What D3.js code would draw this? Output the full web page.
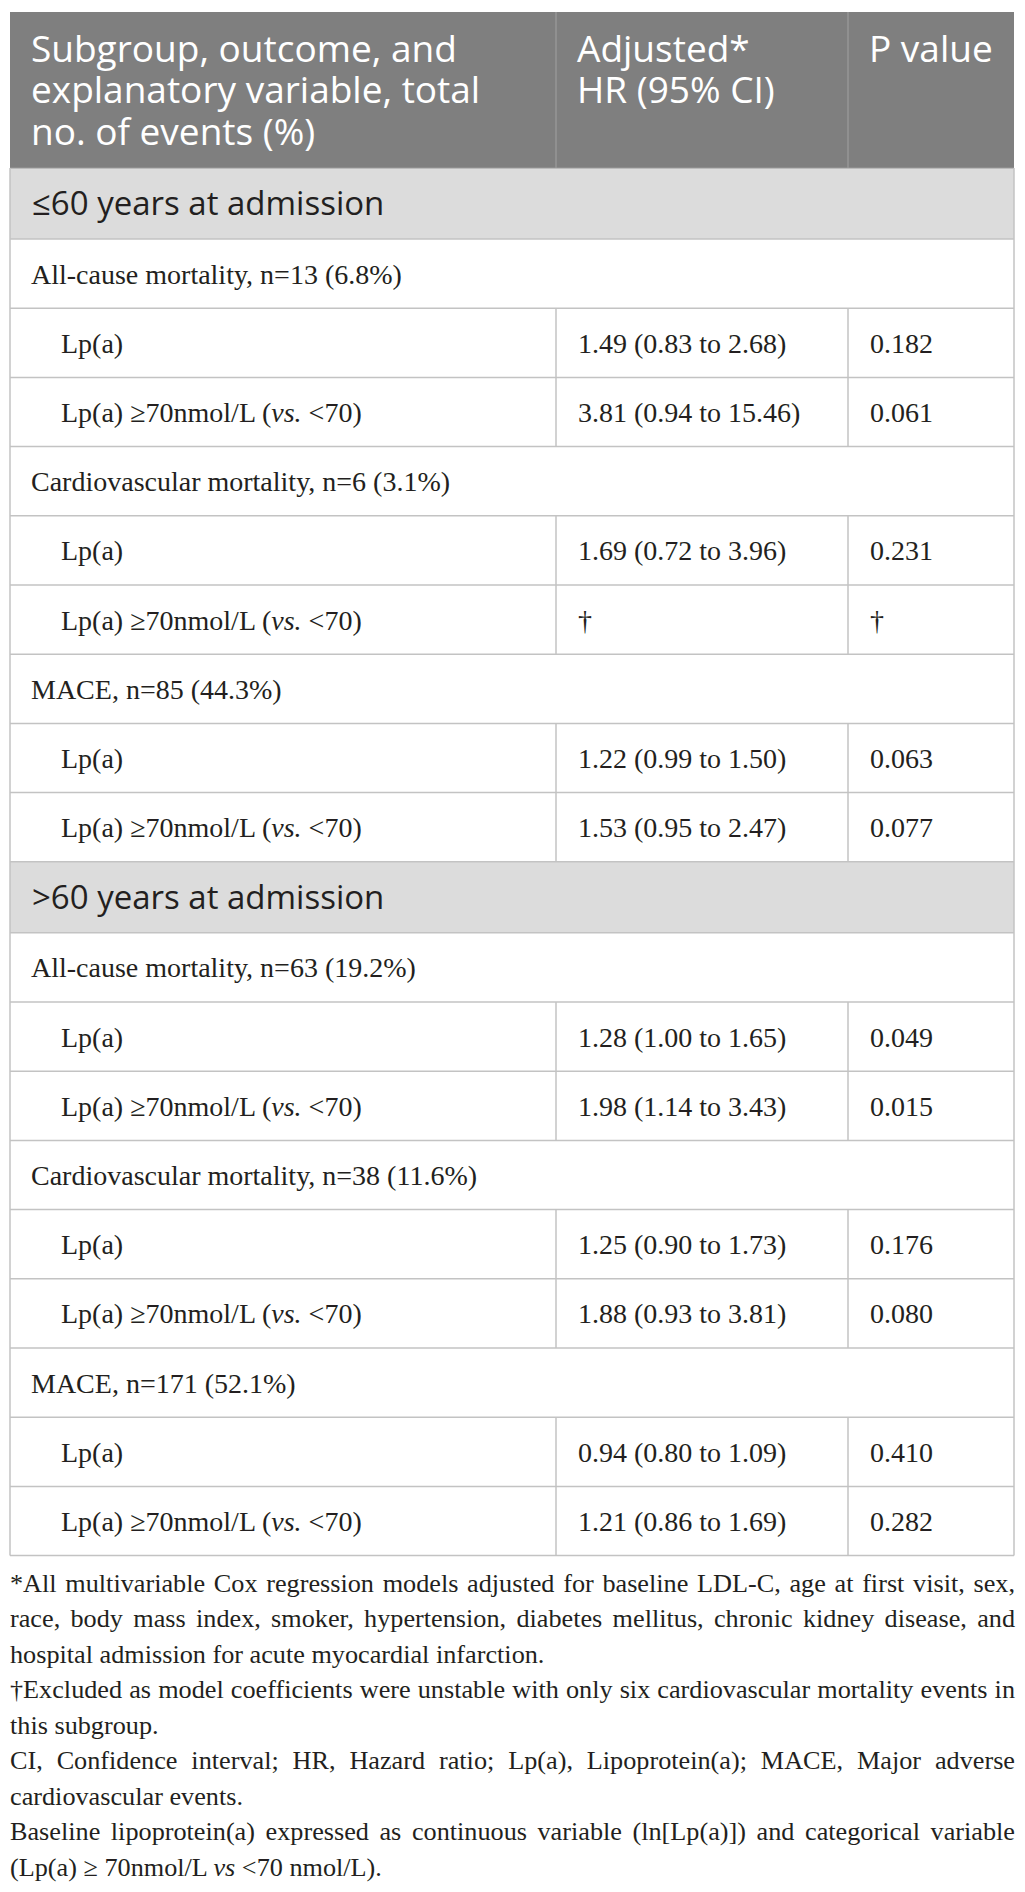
<!DOCTYPE html>
<html><head><meta charset="utf-8">
<script src="https://cdn.jsdelivr.net/npm/d3@7"></script>
<style>body{margin:0;background:#fff}</style>
</head><body><svg id="c" width="1025" height="1892"></svg>
<script>
// ---------- DATA ----------
const headerLines = [
  ["Subgroup, outcome, and", "explanatory variable, total", "no. of events (%)"],
  ["Adjusted*", "HR (95% CI)"],
  ["P value"]
];
const subgroups = ["≤60 years at admission", ">60 years at admission"];
const outcomes = [
  ["All-cause mortality, n=13 (6.8%)", "Cardiovascular mortality, n=6 (3.1%)", "MACE, n=85 (44.3%)"],
  ["All-cause mortality, n=63 (19.2%)", "Cardiovascular mortality, n=38 (11.6%)", "MACE, n=171 (52.1%)"]
];
const variableLabels = [
  [{t: "Lp(a)"}],
  [{t: "Lp(a) ≥70nmol/L ("}, {t: "vs.", i: true}, {t: " <70)"}]
];
const hrContinuous = [
  ["1.49 (0.83 to 2.68)", "1.69 (0.72 to 3.96)", "1.22 (0.99 to 1.50)"],
  ["1.28 (1.00 to 1.65)", "1.25 (0.90 to 1.73)", "0.94 (0.80 to 1.09)"]
];
const pContinuous = [
  ["0.182", "0.231", "0.063"],
  ["0.049", "0.176", "0.410"]
];
const hrCategorical = [
  ["3.81 (0.94 to 15.46)", "†", "1.53 (0.95 to 2.47)"],
  ["1.98 (1.14 to 3.43)", "1.88 (0.93 to 3.81)", "1.21 (0.86 to 1.69)"]
];
const pCategorical = [
  ["0.061", "†", "0.077"],
  ["0.015", "0.080", "0.282"]
];
const footnoteLines = [
  {parts: [{t: "*All multivariable Cox regression models adjusted for baseline LDL-C, age at first visit, sex,"}], j: true},
  {parts: [{t: "race, body mass index, smoker, hypertension, diabetes mellitus, chronic kidney disease, and"}], j: true},
  {parts: [{t: "hospital admission for acute myocardial infarction."}], j: false},
  {parts: [{t: "†Excluded as model coefficients were unstable with only six cardiovascular mortality events in"}], j: true},
  {parts: [{t: "this subgroup."}], j: false},
  {parts: [{t: "CI, Confidence interval; HR, Hazard ratio; Lp(a), Lipoprotein(a); MACE, Major adverse"}], j: true},
  {parts: [{t: "cardiovascular events."}], j: false},
  {parts: [{t: "Baseline lipoprotein(a) expressed as continuous variable (ln[Lp(a)]) and categorical variable"}], j: true},
  {parts: [{t: "(Lp(a) ≥ 70nmol/L "}, {t: "vs", i: true}, {t: " <70 nmol/L)."}], j: false}
];

// ---------- BUILD ROWS ----------
const rows = [{type: "header"}];
subgroups.forEach((sg, g) => {
  rows.push({type: "section", text: sg});
  outcomes[g].forEach((oc, k) => {
    rows.push({type: "outcome", text: oc});
    rows.push({type: "var", label: variableLabels[0], hr: hrContinuous[g][k], p: pContinuous[g][k]});
    rows.push({type: "var", label: variableLabels[1], hr: hrCategorical[g][k], p: pCategorical[g][k]});
  });
});
const heightOf = {header: 156, section: 71, outcome: 69.2, var: 69.2};
const tableTop = 12;
const tops = [tableTop, ...d3.cumsum(rows, r => heightOf[r.type]).map(v => v + tableTop)];
rows.forEach((r, i) => { r.y0 = tops[i]; r.y1 = tops[i + 1]; });
const tableBottom = tops[tops.length - 1];

// column scale
const colEdges = [10, 556, 848, 1014];
const x = d3.scaleOrdinal().domain([0, 1, 2, 3]).range(colEdges);
const pad = 21, indent = 51;

const TEXT = "#231f20", LINE = "#c3c3c3";
const SANS = "'Open Sans', 'Noto Sans', sans-serif";
const SERIF = "'Liberation Serif', 'DejaVu Serif', serif";
const BODY = 28;

const svg = d3.select("#c");

// backgrounds
svg.selectAll("rect.bg").data(rows.filter(r => r.type === "header" || r.type === "section"))
  .join("rect").attr("class", "bg")
  .attr("x", x(0)).attr("width", x(3) - x(0))
  .attr("y", r => r.y0).attr("height", r => r.y1 - r.y0)
  .attr("fill", r => r.type === "header" ? "#7f7f7f" : "#dcdcdc");

// horizontal lines
svg.selectAll("line.h").data(rows.slice(1))
  .join("line").attr("class", "h")
  .attr("x1", x(0)).attr("x2", x(3))
  .attr("y1", r => r.y1).attr("y2", r => r.y1)
  .attr("stroke", LINE).attr("stroke-width", 1.5);
svg.append("line").attr("x1", x(0)).attr("x2", x(3))
  .attr("y1", rows[0].y1).attr("y2", rows[0].y1).attr("stroke", "#9a9a9a").attr("stroke-width", 1);

// outer vertical borders
[0, 3].forEach(c => {
  svg.append("line").attr("x1", x(c)).attr("x2", x(c))
    .attr("y1", rows[1].y0).attr("y2", tableBottom)
    .attr("stroke", LINE).attr("stroke-width", 1.5);
});
// inner dividers in header
[1, 2].forEach(c => {
  svg.append("line").attr("x1", x(c)).attr("x2", x(c))
    .attr("y1", rows[0].y0).attr("y2", rows[0].y1)
    .attr("stroke", "#9c9c9c").attr("stroke-width", 1.2);
});
// inner dividers in variable rows
const varRows = rows.filter(r => r.type === "var");
[1, 2].forEach(c => {
  svg.selectAll("line.v" + c).data(varRows).join("line").attr("class", "v" + c)
    .attr("x1", x(c)).attr("x2", x(c))
    .attr("y1", r => r.y0).attr("y2", r => r.y1)
    .attr("stroke", LINE).attr("stroke-width", 1.5);
});

// header text
headerLines.forEach((lines, c) => {
  const t = svg.append("text").attr("font-family", SANS).attr("font-size", 37)
    .attr("fill", "#ffffff");
  lines.forEach((ln, k) => {
    t.append("tspan").attr("x", x(c) + pad).attr("y", rows[0].y0 + 49.7 + k * 41.7).text(ln);
  });
});

// section text
svg.selectAll("text.sec").data(rows.filter(r => r.type === "section"))
  .join("text").attr("class", "sec")
  .attr("x", x(0) + pad + 1).attr("y", r => r.y0 + 47)
  .attr("font-family", SANS).attr("font-size", 33).attr("fill", TEXT)
  .text(r => r.text);

// outcome text
svg.selectAll("text.oc").data(rows.filter(r => r.type === "outcome"))
  .join("text").attr("class", "oc")
  .attr("x", x(0) + pad).attr("y", r => r.y0 + 44.5)
  .attr("font-family", SERIF).attr("font-size", BODY).attr("fill", TEXT)
  .text(r => r.text);

// variable rows
const vg = svg.selectAll("g.vr").data(varRows).join("g").attr("class", "vr")
  .attr("font-family", SERIF).attr("font-size", BODY).attr("fill", TEXT);
vg.append("text").attr("x", x(0) + indent).attr("y", r => r.y0 + 44.5)
  .each(function(r) {
    const t = d3.select(this);
    r.label.forEach(p => t.append("tspan").attr("font-style", p.i ? "italic" : null).text(p.t));
  });
vg.append("text").attr("x", x(1) + pad + 1).attr("y", r => r.y0 + 44.5).text(r => r.hr);
vg.append("text").attr("x", x(2) + pad + 1).attr("y", r => r.y0 + 44.5).text(r => r.p);

// footnotes
const fLeft = 10, fRight = 1015, fTop = tableBottom + 36, fStep = 35.5;
const target = fRight - fLeft;
// fit the font size so that the tightest justified line (line 4) fills the measure
const probe = svg.append("text").attr("font-family", SERIF).attr("font-size", 24)
  .text(footnoteLines[3].parts[0].t);
const fSize = 24 * (target - 6) / probe.node().getComputedTextLength();
probe.remove();

footnoteLines.forEach((ln, k) => {
  const t = svg.append("text").attr("x", fLeft).attr("y", fTop + k * fStep)
    .attr("font-family", SERIF).attr("font-size", fSize).attr("fill", TEXT);
  ln.parts.forEach(p => t.append("tspan").attr("font-style", p.i ? "italic" : null).text(p.t));
  if (ln.j) {
    const w = t.node().getComputedTextLength();
    const full = ln.parts.map(p => p.t).join("");
    const gaps = (full.match(/ /g) || []).length;
    if (w < target && gaps > 0) {
      t.style("word-spacing", ((target - w) / gaps) + "px");
    } else if (w > target) {
      t.attr("textLength", target).attr("lengthAdjust", "spacingAndGlyphs");
    }
  }
});
</script></body></html>
